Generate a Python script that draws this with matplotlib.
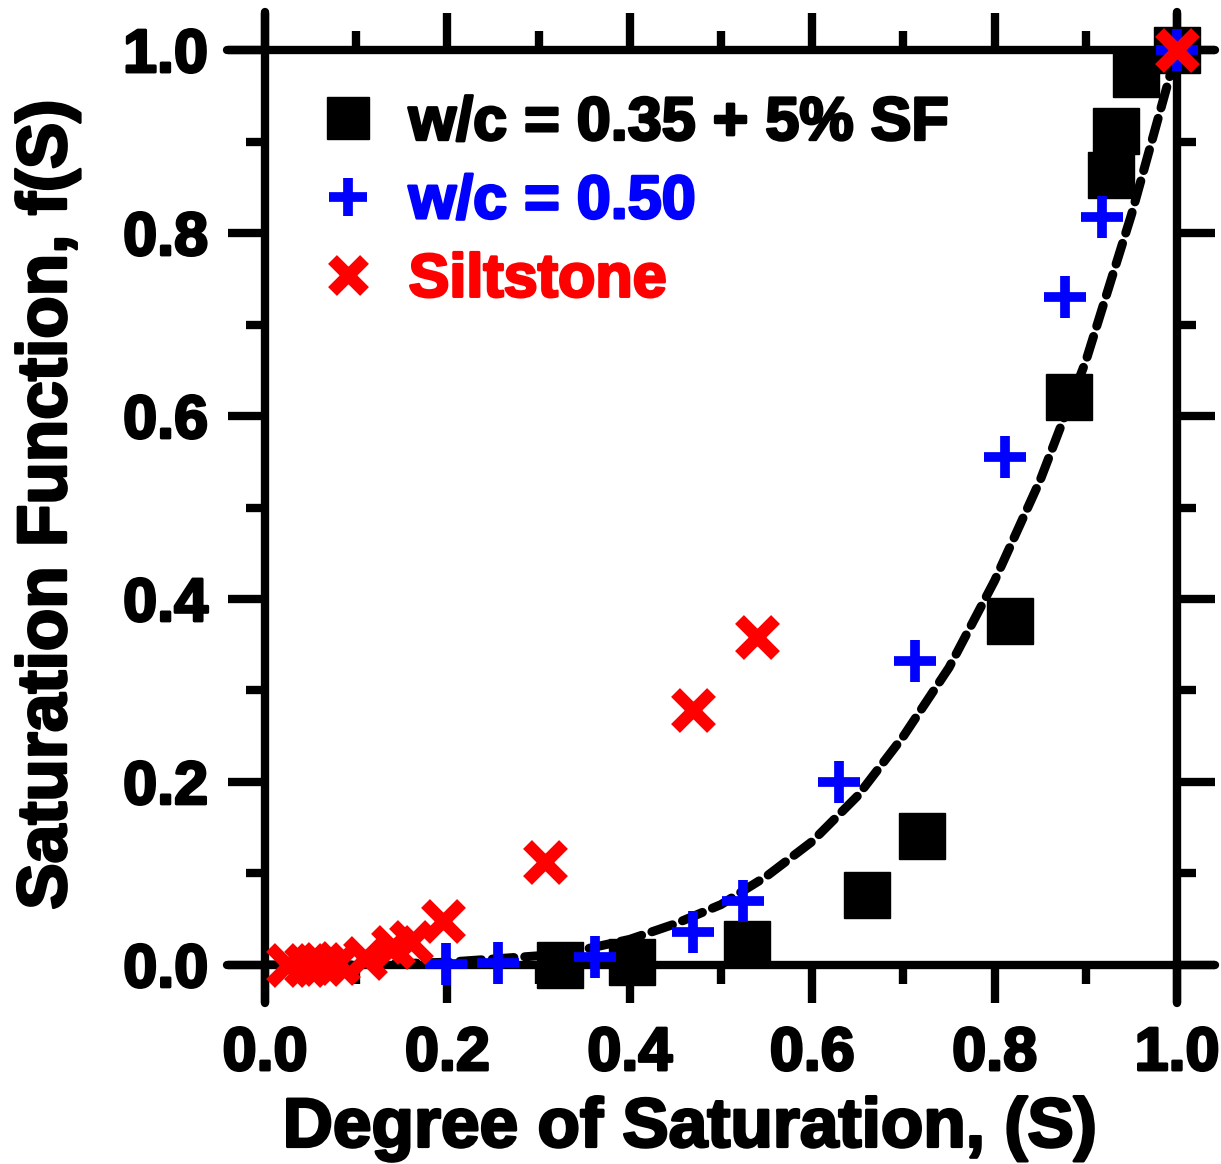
import matplotlib
matplotlib.use("Agg")
import matplotlib.pyplot as plt
import matplotlib.patheffects as pe

plt.rcParams["font.family"] = ["Liberation Sans", "DejaVu Sans"]
plt.rcParams["font.weight"] = "bold"
plt.rcParams["axes.labelweight"] = "bold"

# w/c = 0.35 + 5% SF
sf_s = [0.323, 0.402, 0.528, 0.660, 0.720, 0.817, 0.882, 0.928, 0.933, 0.955, 1.0]
sf_f = [0.000, 0.003, 0.023, 0.077, 0.141, 0.376, 0.621, 0.863, 0.911, 0.974, 1.0]

# w/c = 0.50
wc50_s = [0.199, 0.256, 0.362, 0.469, 0.524, 0.629, 0.713, 0.811, 0.877, 0.918, 1.0]
wc50_f = [0.001, 0.002, 0.009, 0.036, 0.070, 0.200, 0.332, 0.555, 0.730, 0.817, 1.0]

# Siltstone
silt_s = [0.025, 0.045, 0.062, 0.080, 0.110, 0.140, 0.160, 0.195, 0.307, 0.469, 0.539, 1.0]
silt_f = [0.000, 0.000, 0.001, 0.002, 0.008, 0.020, 0.025, 0.048, 0.113, 0.279, 0.358, 1.0]

# dashed fit curve
fit_s = [0.0, 0.1, 0.2, 0.3, 0.35, 0.4, 0.45, 0.5, 0.55, 0.6, 0.65, 0.7, 0.75, 0.8, 0.85, 0.9, 0.95, 1.0]
fit_f = [0.0, 0.0, 0.003, 0.01, 0.017, 0.028, 0.045, 0.066, 0.097, 0.135, 0.185, 0.25, 0.325, 0.42, 0.53, 0.66, 0.82, 1.0]

labels = ["w/c = 0.35 + 5% SF", "w/c = 0.50", "Siltstone"]
ticks = [0.0, 0.2, 0.4, 0.6, 0.8, 1.0]
tick_labels = ["0.0", "0.2", "0.4", "0.6", "0.8", "1.0"]

thick = [pe.withStroke(linewidth=2, foreground="black")]

fig = plt.figure(figsize=(12.21, 11.64), dpi=100)
ax = fig.add_axes([0.217, 0.171, 0.747, 0.786])

ax.plot(fit_s, fit_f, color="black", lw=6.5, dashes=(2.4, 1.2),
        dash_capstyle="round", zorder=2)
ax.plot(sf_s, sf_f, ls="none", marker="s", ms=33, color="black",
        label=labels[0], clip_on=False, zorder=3)
ax.plot(wc50_s, wc50_f, ls="none", marker="+", ms=30, mew=7, color="blue",
        label=labels[1], clip_on=False, zorder=4)
ax.plot(silt_s, silt_f, ls="none", marker="x", ms=26, mew=9, color="red",
        label=labels[2], clip_on=False, zorder=5)

ax.set_xlim(0, 1)
ax.set_ylim(0, 1)
ax.set_xticks(ticks)
ax.set_xticklabels(tick_labels)
ax.set_yticks(ticks)
ax.set_yticklabels(tick_labels)
ax.set_xticks([0.1, 0.3, 0.5, 0.7, 0.9], minor=True)
ax.set_yticks([0.1, 0.3, 0.5, 0.7, 0.9], minor=True)

ax.tick_params(which="both", direction="out", top=True, right=True, width=6,
               labelsize=44)
ax.tick_params(which="major", length=27)
ax.tick_params(which="minor", length=14)
ax.tick_params(axis="x", pad=17)
ax.tick_params(axis="y", pad=14)

for lab in ax.get_xticklabels() + ax.get_yticklabels():
    lab.set_path_effects(thick)

ext = 0.042
for side in ["left", "right", "top", "bottom"]:
    ax.spines[side].set_linewidth(6)
    ax.spines[side].set_bounds(-ext, 1 + ext)
    ax.spines[side].set_capstyle("round")

ax.set_xlabel("Degree of Saturation, (S)", fontsize=50, fontweight="bold",
              path_effects=thick)
ax.set_ylabel("Saturation Function, f(S)", fontsize=50, fontweight="bold",
              path_effects=thick)
ax.xaxis.set_label_coords(0.466, -0.144)
ax.yaxis.set_label_coords(-0.203, 0.503)

leg = ax.legend(loc="upper left", bbox_to_anchor=(0.057, 0.950), frameon=False,
                fontsize=44, handlelength=1.0, handletextpad=0.5,
                labelspacing=0.35, borderpad=0, borderaxespad=0, markerscale=0.9,
                labelcolor=["black", "blue", "red"])
for t in leg.get_texts():
    t.set_path_effects([pe.withStroke(linewidth=2, foreground=t.get_color())])

fig.savefig("out.png", dpi=100)
